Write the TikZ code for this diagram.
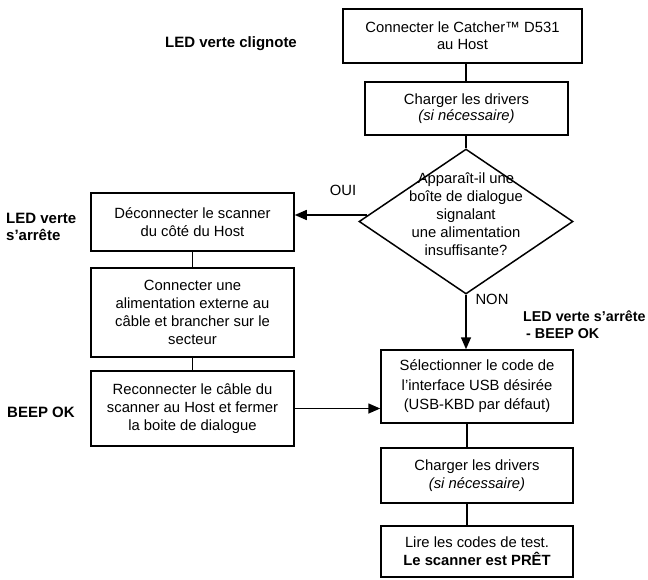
\documentclass[tikz,border=0pt]{standalone}
\usepackage{fontspec}
\setmainfont{Liberation Sans}
\usetikzlibrary{arrows.meta,shapes.geometric}
\begin{document}
\begin{tikzpicture}[x=1pt,y=-1pt,
  every node/.style={font=\fontsize{14.8}{18}\selectfont},
  box/.style={draw,line width=1.5pt,rectangle,inner sep=0pt,align=center},
  lbl/.style={font=\fontsize{15}{17}\selectfont\bfseries,inner sep=0pt},
  conn/.style={line width=1.5pt},
  arr/.style={line width=1.5pt,-{Triangle[length=12pt,width=10pt]}}]
\useasboundingbox (0,0) rectangle (648,579);
\node[box,minimum width=239pt,minimum height=54pt,font=\fontsize{14.8}{17}\selectfont] (b1) at (462.5,36) {Connecter le Catcher™ D531\\au Host};
\node[box,minimum width=203pt,minimum height=53pt,font=\fontsize{14.8}{16.5}\selectfont] (b2) at (466.5,108.5) {Charger les drivers\\\textit{(si nécessaire)}};
\node[draw,diamond,line width=1.5pt,minimum width=214pt,minimum height=145pt,inner sep=0pt] (dia) at (466,221.5) {};
\node[align=center,inner sep=0pt] (diat) at (466,214) {Apparaît-il une\\boîte de dialogue\\signalant\\une alimentation\\insuffisante?};
\node[box,minimum width=203pt,minimum height=58pt] (dec) at (192.5,222) {Déconnecter le scanner\\du côté du Host};
\node[box,minimum width=203pt,minimum height=89pt] (con) at (192.5,312.5) {Connecter une\\alimentation externe au\\câble et brancher sur le\\secteur};
\node[box,minimum width=203pt,minimum height=75pt] (rec) at (192.5,408.5) {Reconnecter le câble du\\scanner au Host et fermer\\la boite de dialogue};
\node[box,minimum width=192pt,minimum height=73pt,font=\fontsize{14.8}{19.5}\selectfont] (sel) at (477,386.5) {Sélectionner le code de\\l’interface USB désirée\\(USB-KBD par défaut)};
\node[box,minimum width=192pt,minimum height=55pt] (ch2) at (477,475.5) {Charger les drivers\\\textit{(si nécessaire)}};
\node[box,minimum width=192pt,minimum height=51pt] (lire) at (477,551.5) {Lire les codes de test.\\\textbf{Le scanner est PRÊT}};
% labels
\node[lbl] (l1) at (231,44) {LED verte clignote};
\node[lbl,anchor=west,align=left] (l2) at (6,227) {LED verte\\s’arrête};
\node[lbl,anchor=west] (l3) at (7,412) {BEEP OK};
\node[lbl,anchor=west,align=left,font=\fontsize{14.3}{17}\selectfont\bfseries] (l4) at (523,325) {LED verte s’arrête\\\hspace*{3pt}- BEEP OK};
\node[inner sep=0pt] (oui) at (343,190) {OUI};
\node[inner sep=0pt] (non) at (492,299) {NON};
% connectors
\draw[conn] (b1.south -| dia.north) -- (b2.north -| dia.north);
\draw[conn] (b2.south -| dia.north) -- (dia.north);
\coordinate (ouis) at (367,215);
\draw[arr] (ouis) -- (ouis -| dec.east);
\draw[arr] (dia.south) -- (dia.south |- sel.north);
\draw[conn] (dec.south) -- (con.north);
\draw[conn] (con.south) -- (rec.north);
\draw[arr] (rec.east) -- (rec.east -| sel.west);
\coordinate (vx) at (467,0);
\draw[conn] (sel.south -| vx) -- (ch2.north -| vx);
\draw[conn] (ch2.south -| vx) -- (lire.north -| vx);
\end{tikzpicture}
\end{document}
